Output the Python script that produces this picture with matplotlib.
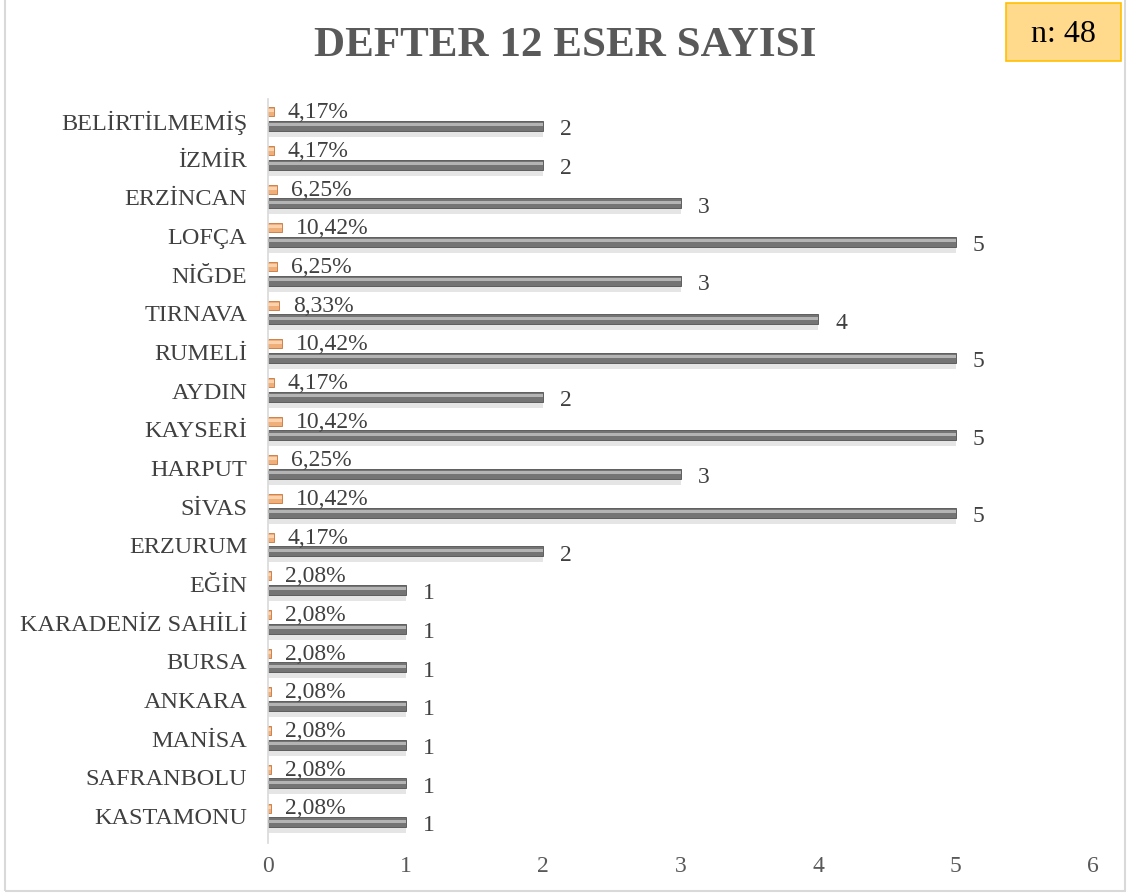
import matplotlib
matplotlib.use("Agg")
import matplotlib.pyplot as plt
from matplotlib.patches import Rectangle

categories = ["KASTAMONU", "SAFRANBOLU", "MANİSA", "ANKARA", "BURSA",
              "KARADENİZ SAHİLİ", "EĞİN", "ERZURUM", "SİVAS", "HARPUT",
              "KAYSERİ", "AYDIN", "RUMELİ", "TIRNAVA", "NİĞDE", "LOFÇA",
              "ERZİNCAN", "İZMİR", "BELİRTİLMEMİŞ"]
counts = [1, 1, 1, 1, 1, 1, 1, 2, 5, 3, 5, 2, 5, 4, 3, 5, 3, 2, 2]
percents = [2.08, 2.08, 2.08, 2.08, 2.08, 2.08, 2.08, 4.17, 10.42, 6.25,
            10.42, 4.17, 10.42, 8.33, 6.25, 10.42, 6.25, 4.17, 4.17]
x_ticks = [0, 1, 2, 3, 4, 5, 6]
title = "DEFTER 12 ESER SAYISI"
n_label = "n: 48"

plt.rcParams['font.family'] = ['Liberation Serif', 'DejaVu Serif']

W, H = 1131, 895
fig = plt.figure(figsize=(W / 100, H / 100), dpi=100)
ax_left, ax_right, ax_top, ax_bottom = 268, 1093, 100, 844
ax = fig.add_axes([ax_left / W, 1 - ax_bottom / H, (ax_right - ax_left) / W,
                   (ax_bottom - ax_top) / H])

step = 38.67  # px per category
gray_center_px0 = 823
ylo = -(ax_bottom - gray_center_px0) / step
yhi = (gray_center_px0 - ax_top) / step
px = 1 / step

ypos = list(range(len(categories)))
gray_y = [y for y in ypos]
orange_y = [y + 14 * px for y in ypos]
pct_vals = [p / 100 for p in percents]

# shadow
ax.barh([y - 4 * px for y in gray_y], counts, height=14 * px, color="#000000",
        alpha=0.10, linewidth=0, zorder=1)
# gray bars
ax.barh(gray_y, counts, height=10 * px, color="#747474", edgecolor="#505050",
        linewidth=0.6, zorder=2)
ax.barh([y + 1 * px for y in gray_y], counts, height=3 * px, color="#B4B4B4",
        linewidth=0, zorder=3)
# orange bars
ax.barh(orange_y, pct_vals, height=9 * px, color="#F0AE78", edgecolor="#C8753A",
        linewidth=0.6, zorder=2)
ax.barh([y + 1 * px for y in orange_y], pct_vals, height=3 * px, color="#FAD3AE",
        linewidth=0, zorder=3)

lab_color = "#404040"
for y, c in zip(gray_y, counts):
    ax.text(c + 17 / 137.5, y - 3 * px, str(c), va="center", ha="left",
            fontsize=17, color=lab_color, zorder=5)
for y, p, v in zip(orange_y, percents, pct_vals):
    ax.text(v + 14 / 137.5, y, f"{p:.2f}".replace(".", ",") + "%", va="center",
            ha="left", fontsize=17, color=lab_color, zorder=5)

ax.set_ylim(ylo, yhi)
ax.set_xlim(0, 6)
ax.set_yticks([y + 7 * px for y in ypos])
ax.set_yticklabels(categories, fontsize=17.5, color=lab_color)
ax.set_xticks(x_ticks)
ax.set_xticklabels([str(t) for t in x_ticks], fontsize=17, color="#595959")
ax.tick_params(axis="both", length=0)
ax.tick_params(axis="y", pad=15)
ax.tick_params(axis="x", pad=9)
for s in ["top", "right", "bottom"]:
    ax.spines[s].set_visible(False)
ax.spines["left"].set_color("#D9D9D9")
ax.spines["left"].set_linewidth(1.2)

fig.text(565 / W, 1 - 46 / H, title, ha="center", va="center", fontsize=31,
         fontweight="bold", color="#595959")

bx0, by0, bx1, by1 = 1006, 4, 1121, 62
fig.patches.append(Rectangle((bx0 / W, 1 - by1 / H), (bx1 - bx0) / W, (by1 - by0) / H,
                             transform=fig.transFigure, facecolor="#FFD98C",
                             edgecolor="#FFC000", linewidth=1.2))
fig.text((bx0 + bx1) / 2 / W, 1 - 34 / H, n_label, ha="center", va="center",
         fontsize=23, color="#000000")

fig.patches.append(Rectangle((5 / W, 1 - 892 / H), (1125 - 5) / W, 900 / H,
                             transform=fig.transFigure, fill=False,
                             edgecolor="#D9D9D9", linewidth=1.5))

fig.savefig("out.png", dpi=100)
